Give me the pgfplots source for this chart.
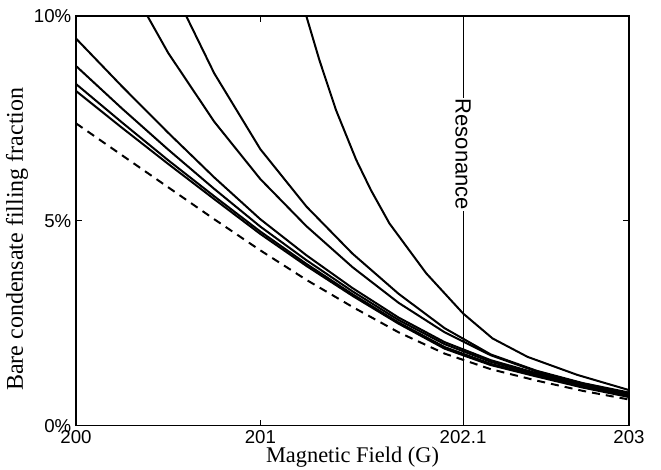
\documentclass[border=0pt]{standalone}
\usepackage{fontspec}
\setmainfont{Liberation Serif}
\setsansfont{Liberation Sans}
\usepackage{pgfplots}
\pgfplotsset{compat=1.18}
\begin{document}
\begin{tikzpicture}
\begin{axis}[
  name=ax, at={(0,0)}, anchor=south west,
  scale only axis, width=414.75pt, height=307.3pt,
  xmin=200, xmax=203, ymin=0, ymax=10,
  xtick={200,201,202.1,203}, xticklabels={200,201,202.1,203},
  ytick={0,5,10}, yticklabels={0\%,5\%,10\%},
  tick align=inside, major tick length=4.5pt,
  axis line style={line width=1.1pt},
  every tick/.style={black, line width=0.8pt},
  tick label style={font=\sffamily\fontsize{14}{16}\selectfont},
  /pgf/number format/assume math mode=true,
  xlabel={Magnetic Field (G)}, ylabel={Bare condensate filling fraction},
  xlabel style={font=\fontsize{16.8}{19}\selectfont, at={(axis description cs:0.5,-0.076)}, anchor=center},
  ylabel style={font=\fontsize{18}{20}\selectfont, at={(axis description cs:-0.1067,0.455)}, anchor=center},
  clip=true,
]
% resonance line
\addplot[black, line width=0.8pt] coordinates {(202.1,0) (202.1,10)};
% dashed
\addplot[black, line width=1.5pt, dash pattern=on 6pt off 4.5pt] coordinates {
(200,7.38) (200.25,6.60) (200.5,5.82) (200.75,5.04) (201,4.28) (201.25,3.56) (201.5,2.90) (201.75,2.28) (202,1.76) (202.25,1.38) (202.5,1.10) (202.75,0.85) (203,0.64)};
% S4
\addplot[black, line width=1.5pt] coordinates {
(200,8.17) (200.25,7.27) (200.5,6.39) (200.75,5.53) (201,4.68) (201.25,3.90) (201.5,3.17) (201.75,2.49) (202,1.88) (202.25,1.48) (202.5,1.20) (202.75,0.93) (203,0.70)};
% S3
\addplot[black, line width=1.5pt] coordinates {
(200,8.34) (200.25,7.40) (200.5,6.48) (200.75,5.60) (201,4.74) (201.25,3.95) (201.5,3.21) (201.75,2.52) (202,1.92) (202.25,1.51) (202.5,1.22) (202.75,0.95) (203,0.72)};
% S2
\addplot[black, line width=1.5pt] coordinates {
(200,8.78) (200.25,7.74) (200.5,6.74) (200.75,5.78) (201,4.86) (201.25,4.04) (201.5,3.28) (201.75,2.58) (202,1.99) (202.25,1.56) (202.5,1.25) (202.75,0.97) (203,0.74)};
% S1
\addplot[black, line width=1.5pt] coordinates {
(200,9.45) (200.25,8.28) (200.5,7.15) (200.75,6.06) (201,5.04) (201.25,4.16) (201.5,3.36) (201.75,2.64) (202,2.04) (202.25,1.60) (202.5,1.28) (202.75,1.00) (203,0.76)};
% T
\addplot[black, line width=1.5pt] coordinates {
(200.25,11.1) (200.5,9.10) (200.75,7.42) (201,6.02) (201.25,4.87) (201.5,3.87) (201.75,3.00) (202,2.28) (202.25,1.72) (202.5,1.32) (202.75,1.03) (203,0.79)};
% U
\addplot[black, line width=1.5pt] coordinates {
(200.5,10.90) (200.75,8.60) (201,6.75) (201.25,5.35) (201.5,4.20) (201.75,3.22) (202,2.38) (202.25,1.74) (202.5,1.34) (202.75,1.04) (203,0.81)};
% W
\addplot[black, line width=1.5pt] coordinates {
(201.2,10.75) (201.32,8.93) (201.41,7.71) (201.52,6.49) (201.6,5.75) (201.7,4.94) (201.9,3.72) (202.1,2.74) (202.26,2.13) (202.45,1.68) (202.72,1.24) (203,0.87)};
\node[fill=white, inner sep=0.6pt, rotate=-90, font=\sffamily\fontsize{16.5}{18}\selectfont] at (axis cs:202.1,6.62) {Resonance};
\end{axis}
\pgfresetboundingbox
\useasboundingbox ([shift={(-57pt,-33.2pt)}]ax.south west) rectangle ([shift={(24pt,12pt)}]ax.north east);
\end{tikzpicture}
\end{document}
